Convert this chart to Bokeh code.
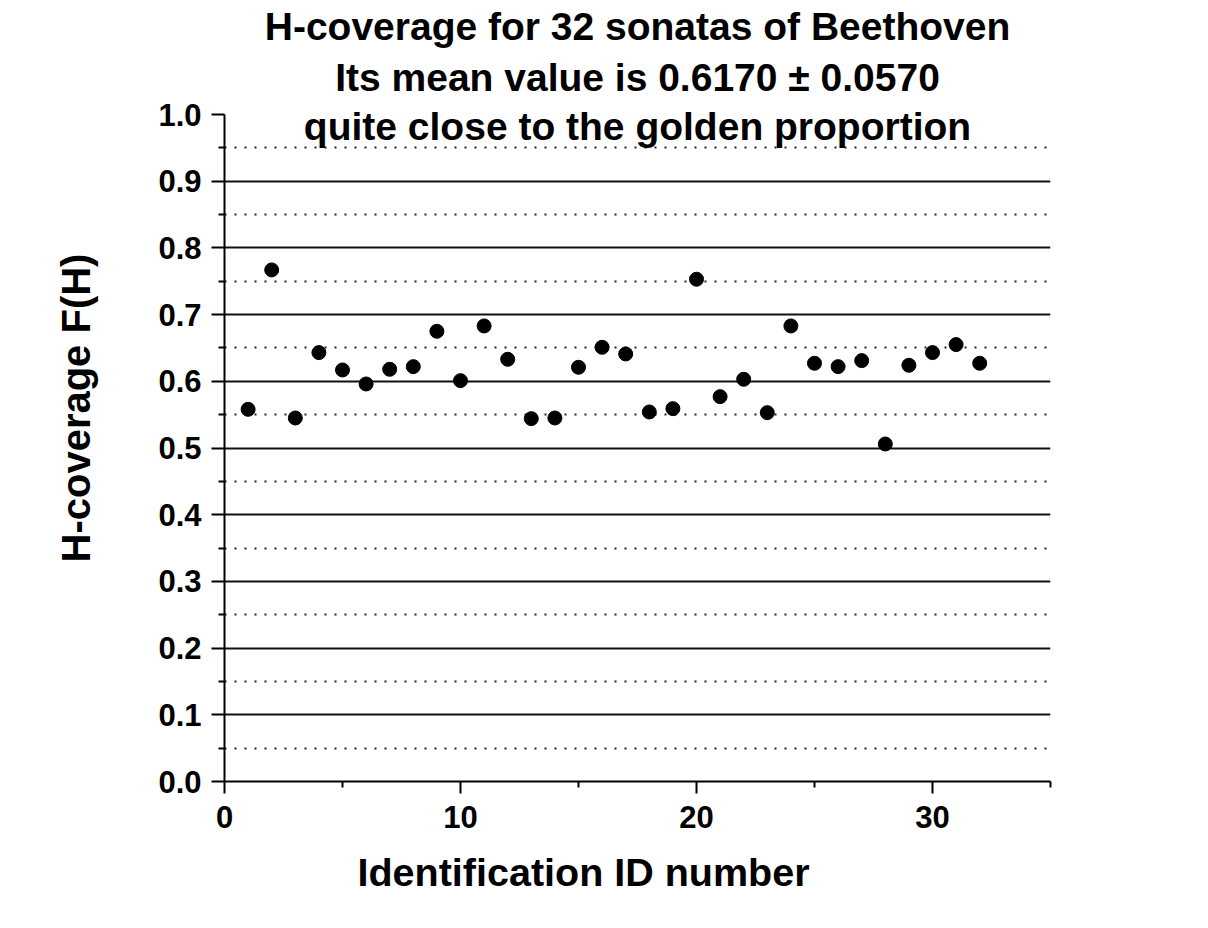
import math
from bokeh.plotting import figure
from bokeh.models import (Range1d, FixedTicker, Label, Title, PrintfTickFormatter,
                          LinearAxis, CustomJSTickFormatter)
from bokeh.embed import file_html
from bokeh.resources import INLINE

# ---- data ----
sonata_ids = [1, 2, 3, 4, 5, 6, 7, 8, 9, 10, 11, 12, 13, 14, 15, 16,
              17, 18, 19, 20, 21, 22, 23, 24, 25, 26, 27, 28, 29, 30, 31, 32]
h_coverage = [0.558, 0.767, 0.545, 0.643, 0.617, 0.596, 0.618, 0.622,
              0.675, 0.601, 0.683, 0.633, 0.544, 0.545, 0.621, 0.651,
              0.641, 0.554, 0.559, 0.753, 0.577, 0.603, 0.553, 0.683,
              0.627, 0.622, 0.631, 0.506, 0.624, 0.643, 0.655, 0.627]

title_lines = ["H-coverage for 32 sonatas of Beethoven",
               "Its mean value is 0.6170 \u00b1 0.0570",
               "quite close to the golden proportion"]
x_label = "Identification ID number"
y_label = "H-coverage F(H)"

x_major_ticks = [0, 10, 20, 30]
x_minor_ticks = [5, 15, 25, 35]
y_major_ticks = [0.0, 0.1, 0.2, 0.3, 0.4, 0.5, 0.6, 0.7, 0.8, 0.9, 1.0]
y_minor_ticks = [0.05, 0.15, 0.25, 0.35, 0.45, 0.55, 0.65, 0.75, 0.85, 0.95]
x_limits = (0, 35)
y_limits = (0.0, 1.0)

FONT = "Liberation Sans"

# layout: the frame reaches the top of the canvas so the title lines can sit in it
W, H = 1208, 928
B_LEFT, B_RIGHT, B_BOTTOM = 224, 158, 147
FRAME_H = H - B_BOTTOM              # 781 px, of which 667 px cover 0..1
AXIS_PX = 667
y_top = y_limits[0] + (y_limits[1] - y_limits[0]) * FRAME_H / AXIS_PX

p = figure(width=W, height=H, output_backend="svg", toolbar_location=None,
           x_range=Range1d(*x_limits), y_range=Range1d(y_limits[0], y_top),
           min_border_left=B_LEFT, min_border_right=B_RIGHT,
           min_border_top=0, min_border_bottom=B_BOTTOM)
p.outline_line_color = None
p.background_fill_color = "white"
p.border_fill_color = "white"

p.xaxis.ticker = FixedTicker(ticks=x_major_ticks, minor_ticks=x_minor_ticks)
p.yaxis.ticker = FixedTicker(ticks=y_major_ticks, minor_ticks=y_minor_ticks)
p.yaxis.bounds = y_limits
p.yaxis.formatter = PrintfTickFormatter(format="%.1f")
p.ygrid.ticker = FixedTicker(ticks=[t for t in y_major_ticks if y_limits[0] < t < y_limits[1]],
                             minor_ticks=y_minor_ticks)

for ax in (p.xaxis, p.yaxis):
    ax.axis_line_color = "black"
    ax.axis_line_width = 2
    ax.major_tick_line_color = "black"
    ax.major_tick_line_width = 2
    ax.minor_tick_line_color = "black"
    ax.minor_tick_line_width = 2
    ax.major_tick_in = 0
    ax.minor_tick_in = 0
    ax.minor_tick_out = 6
    ax.major_label_text_font = FONT
    ax.major_label_text_font_style = "bold"
    ax.major_label_text_font_size = "31px"
    ax.major_label_text_color = "black"
p.xaxis.major_tick_out = 12
p.yaxis.major_tick_out = 13
p.xaxis.major_label_standoff = 12
p.yaxis.major_label_standoff = 10

p.xgrid.grid_line_color = None
p.ygrid.grid_line_color = "#111111"
p.ygrid.grid_line_width = 1.8
p.ygrid.minor_grid_line_color = "#222222"
p.ygrid.minor_grid_line_width = 2
p.ygrid.minor_grid_line_dash = "2 8"

p.scatter(sonata_ids, h_coverage, size=14, marker="circle",
          fill_color="black", line_color="black")

# title lines inside the (tall) frame, frame-relative screen units
fw = W - B_LEFT - B_RIGHT
title_baselines = [26, 77, 126]
for txt, b in zip(title_lines, title_baselines):
    p.add_layout(Label(x=fw / 2, y=FRAME_H - b, x_units="screen", y_units="screen",
                       text=txt, text_align="center", text_baseline="alphabetic",
                       text_font=FONT, text_font_style="bold", text_font_size="39px",
                       text_color="black"))

# x axis title (off-centre as in the reference)
p.add_layout(Title(text=x_label, align="left", offset=133, standoff=34,
                   text_font=FONT, text_font_style="bold", text_font_size="39.5px",
                   text_color="black"), "below")

# invisible spacer axis (one unlabeled, undrawn tick), then the y axis title
spacer_axis = LinearAxis(ticker=FixedTicker(ticks=[0.5], minor_ticks=[]),
                         formatter=CustomJSTickFormatter(code="return ''"),
                         axis_line_color=None,
                         major_tick_line_color=None, minor_tick_line_color=None,
                         major_tick_in=0, major_tick_out=54, minor_tick_out=0,
                         major_label_standoff=0)
p.add_layout(spacer_axis, "left")
p.add_layout(Title(text=y_label, align="left", offset=219, standoff=8,
                   text_font=FONT, text_font_style="bold", text_font_size="40px",
                   text_color="black"), "left")

open("out.html", "w").write(file_html(p, INLINE))
